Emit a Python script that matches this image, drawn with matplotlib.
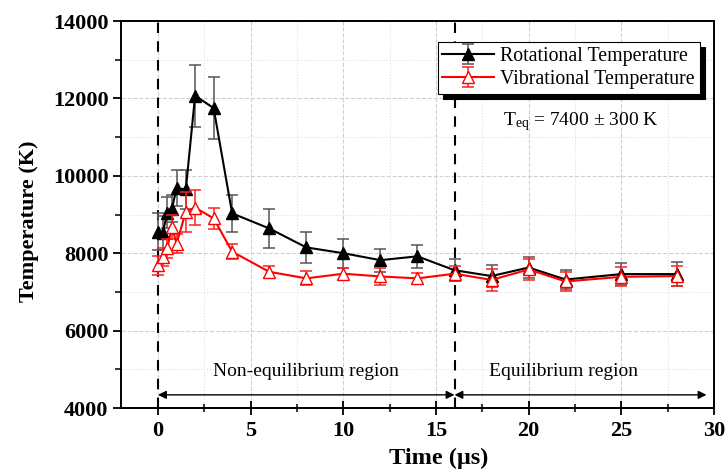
import numpy as np
import matplotlib.pyplot as plt
from matplotlib.ticker import MultipleLocator

plt.rcParams['font.family'] = ['Liberation Serif', 'DejaVu Serif']
plt.rcParams['mathtext.fontset'] = 'custom'
plt.rcParams['mathtext.rm'] = 'Liberation Serif'
plt.rcParams['mathtext.it'] = 'Liberation Serif:italic'

# time in microseconds
times = [0, 0.25, 0.5, 0.75, 1, 1.5, 2, 3, 4, 6, 8, 10, 12, 14, 16, 18, 20, 22, 25, 28]
rot_temp = [8550, 8520, 9050, 9150, 9680, 9650, 12070, 11750, 9030, 8640,
            8150, 8000, 7820, 7920, 7560, 7410, 7630, 7320, 7460, 7460]
rot_err = [480, 450, 400, 350, 470, 500, 800, 800, 480, 510,
           400, 370, 300, 290, 280, 290, 280, 250, 290, 300]
vib_temp = [7690, 7900, 8130, 8680, 8250, 9070, 9180, 8900, 8040, 7520,
            7350, 7470, 7400, 7350, 7470, 7310, 7580, 7270, 7390, 7410]
vib_err = [250, 230, 250, 300, 250, 520, 450, 280, 200, 160,
           180, 150, 220, 150, 200, 280, 260, 250, 250, 250]

boundaries = [0, 16]

fig = plt.figure(figsize=(7.27, 4.73), dpi=100)
ax = fig.add_axes([0.1664, 0.1374, 0.8156, 0.8182])

ax.errorbar(times, rot_temp, yerr=rot_err, color='black', ecolor='#555555',
            elinewidth=1.1, capsize=4, capthick=1.1, lw=1.5, marker='^',
            ms=9, mfc='black', mec='black', label='Rotational Temperature', zorder=3)
ax.errorbar(times, vib_temp, yerr=vib_err, color='red', ecolor='#ff2020',
            elinewidth=1.1, capsize=4, capthick=1.1, lw=1.5, marker='^',
            ms=9, mfc='white', mec='red', label='Vibrational Temperature', zorder=4)

for b in boundaries:
    ax.axvline(b, color='black', lw=1.5, ls=(0, (5, 4)), zorder=2)

ax.set_xlim(-2, 30)
ax.set_ylim(4000, 14000)
ax.xaxis.set_major_locator(MultipleLocator(5))
ax.xaxis.set_minor_locator(MultipleLocator(2.5))
ax.yaxis.set_major_locator(MultipleLocator(2000))
ax.yaxis.set_minor_locator(MultipleLocator(1000))
ax.grid(which='major', color='#d0d0d0', ls='--', lw=0.8)
ax.grid(which='minor', color='#e0e0e0', ls=':', lw=0.8)
ax.set_axisbelow(True)

ax.tick_params(axis='x', which='major', direction='inout', length=10, width=1.3, pad=4)
ax.tick_params(axis='x', which='minor', direction='inout', length=6, width=1.1)
ax.tick_params(axis='y', which='major', direction='out', length=6, width=1.3, pad=3)
ax.tick_params(axis='y', which='minor', direction='out', length=4, width=1.1)
ax.tick_params(labelsize=16)
for lab in ax.get_xticklabels() + ax.get_yticklabels():
    lab.set_fontweight('bold')
for s in ax.spines.values():
    s.set_linewidth(1.4)

ax.set_xlabel('Time (\u03bcs)', fontsize=17.5, fontweight='bold', labelpad=5, x=0.535)
ax.set_ylabel('Temperature (K)', fontsize=16, fontweight='bold', labelpad=10, y=0.483)

leg = ax.legend(loc='upper right', bbox_to_anchor=(0.976, 0.946), fontsize=14.3,
                frameon=True, fancybox=False, edgecolor='black', framealpha=1,
                handlelength=2.6, borderpad=0.25, labelspacing=0.2,
                handletextpad=0.3, borderaxespad=0,
                shadow={'ox': 4, 'oy': -4, 'color': 'black', 'alpha': 1})
leg.get_frame().set_linewidth(0.8)
leg.set_zorder(10)

ax.text(18.6, 11300, r'T$_{\rm eq}$ = 7400 ± 300 K', fontsize=14)

arrow_y = 4340
ax.annotate('', xy=(0, arrow_y), xytext=(16, arrow_y),
            arrowprops=dict(arrowstyle='<|-|>', color='black', lw=1,
                            mutation_scale=12, shrinkA=0, shrinkB=0))
ax.annotate('', xy=(16, arrow_y), xytext=(29.6, arrow_y),
            arrowprops=dict(arrowstyle='<|-|>', color='black', lw=1,
                            mutation_scale=12, shrinkA=0, shrinkB=0))
ax.text(8, 4950, 'Non-equilibrium region', fontsize=14, ha='center', va='center')
ax.text(21.9, 4950, 'Equilibrium region', fontsize=14, ha='center', va='center')

fig.savefig('out.png', dpi=100)
